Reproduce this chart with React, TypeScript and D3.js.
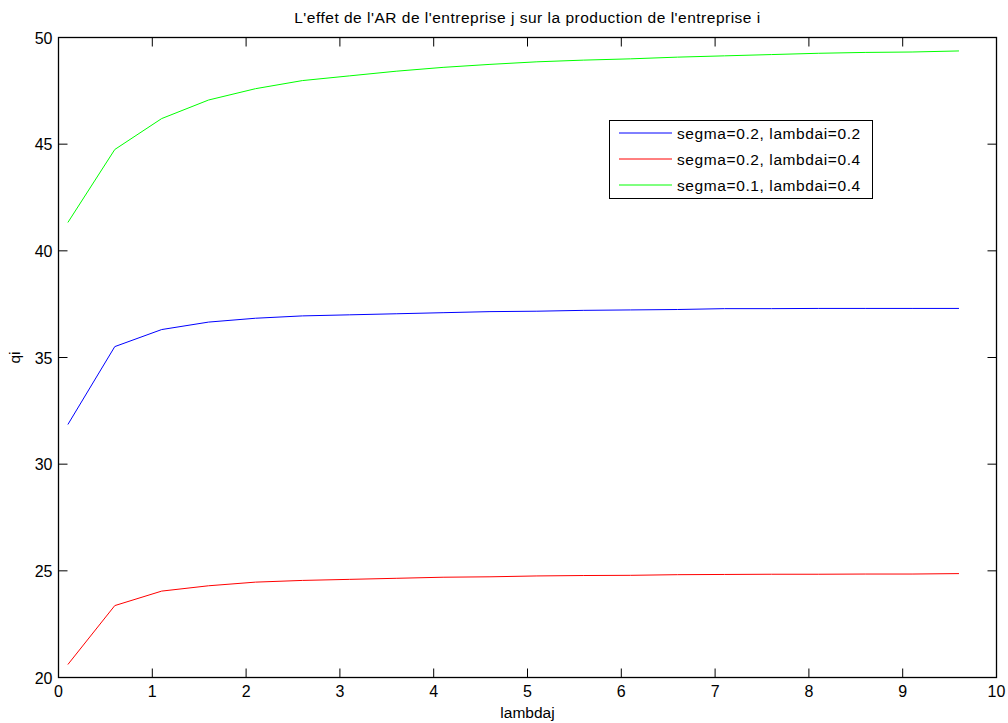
import React from "react";
import * as d3 from "d3";

const xValues = [0.1, 0.6, 1.1, 1.6, 2.1, 2.6, 3.1, 3.6, 4.1, 4.6, 5.1, 5.6, 6.1, 6.6, 7.1, 7.6, 8.1, 8.6, 9.1, 9.6];
const blueValues = [31.86, 35.51, 36.31, 36.66, 36.84, 36.95, 37.0, 37.05, 37.1, 37.15, 37.17, 37.21, 37.23, 37.25, 37.29, 37.29, 37.3, 37.3, 37.3, 37.3];
const redValues = [20.61, 23.37, 24.05, 24.3, 24.47, 24.55, 24.6, 24.65, 24.7, 24.72, 24.76, 24.78, 24.79, 24.82, 24.83, 24.84, 24.84, 24.85, 24.85, 24.87];
const greenValues = [41.33, 44.75, 46.2, 47.07, 47.6, 47.98, 48.2, 48.42, 48.6, 48.74, 48.86, 48.94, 49.0, 49.08, 49.14, 49.2, 49.26, 49.3, 49.32, 49.37];
const xTicks = [0, 1, 2, 3, 4, 5, 6, 7, 8, 9, 10];
const yTicks = [20, 25, 30, 35, 40, 45, 50];
const seriesNames = ["segma=0.2, lambdai=0.2", "segma=0.2, lambdai=0.4", "segma=0.1, lambdai=0.4"];
const seriesColors = ["#0000ff", "#ff0000", "#00ff00"];
const titleText = "L'effet de l'AR de l'entreprise j sur la production de l'entreprise i";

export default function App() {
  const W = 1008, H = 723;
  const left = 58.5, right = 996.5, top = 37.5, bottom = 677.5;
  const x = d3.scaleLinear().domain([0, 10]).range([left, right]);
  const y = d3.scaleLinear().domain([20, 50]).range([bottom, top]);
  const line = d3.line<number>().x((_, i) => x(xValues[i])).y((v) => y(v));
  const series = [blueValues, redValues, greenValues];
  const font = "Liberation Sans, Arial, sans-serif";
  const tl = 9;
  return (
    <svg width={W} height={H} style={{ position: "absolute", left: 0, top: 0, background: "#fff" }} fontFamily={font}>
      <rect x={0} y={0} width={W} height={H} fill="#fff" />
      {series.map((s, i) => (
        <path key={i} d={line(s) || ""} fill="none" stroke={seriesColors[i]} strokeWidth={1} />
      ))}
      <rect x={left} y={top} width={right - left} height={bottom - top} fill="none" stroke="#000" strokeWidth={1.3} />
      {xTicks.map((t) => (
        <g key={"x" + t}>
          <line x1={x(t)} x2={x(t)} y1={bottom} y2={bottom - tl} stroke="#000" strokeWidth={1} />
          <line x1={x(t)} x2={x(t)} y1={top} y2={top + tl} stroke="#000" strokeWidth={1} />
          <text x={x(t)} y={bottom + 19} textAnchor="middle" fontSize={16} fill="#000">{t}</text>
        </g>
      ))}
      {yTicks.map((t) => (
        <g key={"y" + t}>
          <line x1={left} x2={left + tl} y1={y(t)} y2={y(t)} stroke="#000" strokeWidth={1} />
          <line x1={right} x2={right - tl} y1={y(t)} y2={y(t)} stroke="#000" strokeWidth={1} />
          <text x={left - 6} y={y(t) + 6} textAnchor="end" fontSize={16} fill="#000">{t}</text>
        </g>
      ))}
      <text x={(left + right) / 2} y={23} textAnchor="middle" fontSize={15.5} letterSpacing={0.5} fill="#000">{titleText}</text>
      <text x={(left + right) / 2} y={718} textAnchor="middle" fontSize={15.5} fill="#000">lambdaj</text>
      <text transform={`translate(20, ${(top + bottom) / 2}) rotate(-90)`} textAnchor="middle" fontSize={15.5} fill="#000">qi</text>
      <rect x={609.5} y={120.5} width={263} height={78} fill="#fff" stroke="#000" strokeWidth={1} />
      {seriesNames.map((n, i) => (
        <g key={n}>
          <line x1={619} x2={672} y1={133 + i * 26} y2={133 + i * 26} stroke={seriesColors[i]} strokeWidth={1} />
          <text x={677} y={138.5 + i * 26} fontSize={15.5} letterSpacing={0.6} fill="#000">{n}</text>
        </g>
      ))}
    </svg>
  );
}
